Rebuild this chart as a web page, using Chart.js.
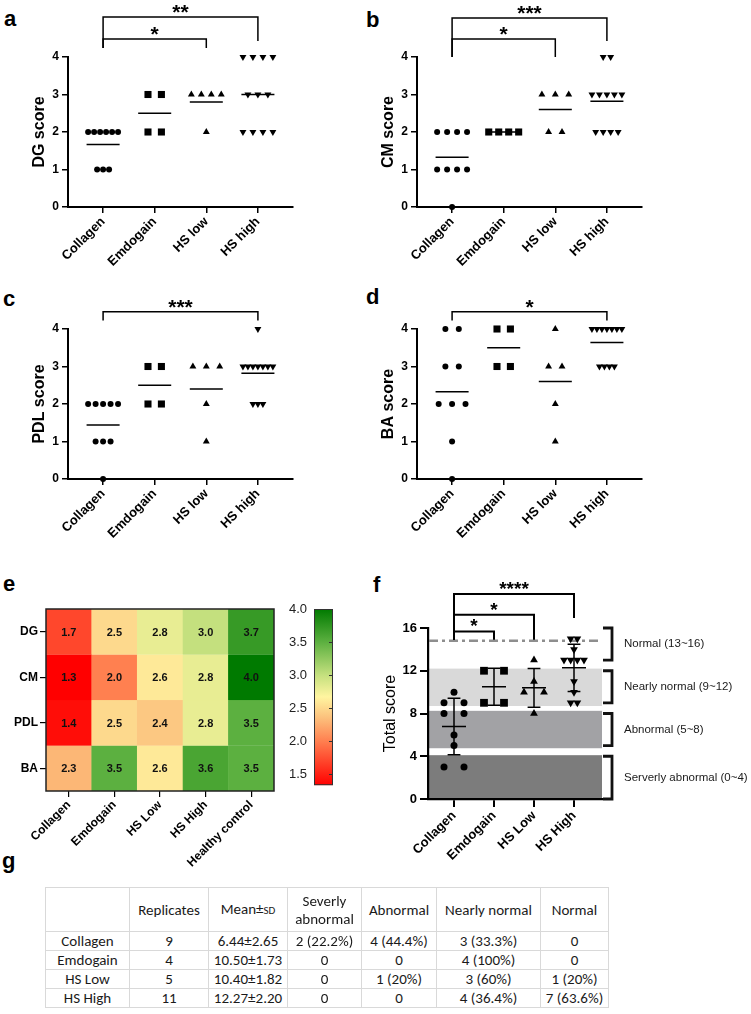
<!DOCTYPE html>
<html>
<head>
<meta charset="utf-8">
<script src="https://cdn.jsdelivr.net/npm/chart.js@4.4.1/dist/chart.umd.min.js"></script>
<style>
html,body{margin:0;padding:0;background:#fff;}
body{width:751px;height:1014px;position:relative;overflow:hidden;font-family:"Liberation Sans",Arial,sans-serif;}
canvas{position:absolute;}
.pl{position:absolute;font-weight:bold;font-size:22px;line-height:22px;color:#000;}
#tbl{position:absolute;left:45px;top:887px;border-collapse:collapse;table-layout:fixed;font-family:Carlito,"Liberation Sans Narrow","DejaVu Sans Condensed","Open Sans",sans-serif;font-size:15px;color:#1a1a1a;}
#tbl td{border:1px solid #d9d9d9;text-align:center;padding:0;height:18px;line-height:18px;white-space:nowrap;overflow:hidden;}
#tbl tr.hd td{height:43px;line-height:18px;}
.sc{font-size:11px;}
</style>
</head>
<body>
<div class="pl" style="left:4px;top:8px">a</div>
<div class="pl" style="left:366px;top:9px">b</div>
<div class="pl" style="left:3px;top:288px">c</div>
<div class="pl" style="left:366px;top:286px">d</div>
<div class="pl" style="left:3px;top:573px">e</div>
<div class="pl" style="left:373px;top:574px">f</div>
<div class="pl" style="left:2px;top:850px">g</div>

<canvas id="ca" width="375" height="270" style="left:0;top:0;width:375px;height:270px"></canvas>
<canvas id="cb" width="375" height="270" style="left:349px;top:0;width:375px;height:270px"></canvas>
<canvas id="cc" width="375" height="270" style="left:0;top:272px;width:375px;height:270px"></canvas>
<canvas id="cd" width="375" height="270" style="left:349px;top:272px;width:375px;height:270px"></canvas>
<canvas id="ce" width="290" height="320" style="left:0;top:560px;width:290px;height:320px"></canvas>
<canvas id="ccb" width="80" height="240" style="left:270px;top:560px;width:80px;height:240px"></canvas>
<canvas id="cf" width="376" height="300" style="left:375px;top:560px;width:376px;height:300px"></canvas>
<table id="tbl"></table>

<script>
// ---------------- DATA ----------------
const groups = ['Collagen', 'Emdogain', 'HS low', 'HS high'];

// a: DG score
const dgCollagen = [2, 2, 2, 2, 2, 2, 1, 1, 1];
const dgEmdogain = [3, 3, 2, 2];
const dgHSlow = [3, 3, 3, 3, 2];
const dgHShigh = [4, 4, 4, 4, 3, 3, 3, 2, 2, 2, 2];
const dgMeans = [1.67, 2.5, 2.8, 3.0];
const dgSig = ['**', '*'];

// b: CM score
const cmCollagen = [2, 2, 2, 2, 1, 1, 1, 1, 0];
const cmEmdogain = [2, 2, 2, 2];
const cmHSlow = [3, 3, 3, 2, 2];
const cmHShigh = [4, 4, 3, 3, 3, 3, 3, 2, 2, 2, 2];
const cmMeans = [1.33, 2.0, 2.6, 2.82];
const cmSig = ['***', '*'];

// c: PDL score
const pdlCollagen = [2, 2, 2, 2, 2, 1, 1, 1, 0];
const pdlEmdogain = [3, 3, 2, 2];
const pdlHSlow = [3, 3, 3, 2, 1];
const pdlHShigh = [4, 3, 3, 3, 3, 3, 3, 3, 2, 2, 2];
const pdlMeans = [1.44, 2.5, 2.4, 2.82];
const pdlSig = ['***'];

// d: BA score
const baCollagen = [4, 4, 3, 3, 2, 2, 2, 1, 0];
const baEmdogain = [4, 4, 3, 3];
const baHSlow = [4, 3, 3, 2, 1];
const baHShigh = [4, 4, 4, 4, 4, 4, 4, 3, 3, 3, 3];
const baMeans = [2.33, 3.5, 2.6, 3.64];
const baSig = ['*'];

// e: heatmap
const heatRows = ['DG', 'CM', 'PDL', 'BA'];
const heatCols = ['Collagen', 'Emdogain', 'HS Low', 'HS High', 'Healthy control'];
const heatDG = [1.7, 2.5, 2.8, 3.0, 3.7];
const heatCM = [1.3, 2.0, 2.6, 2.8, 4.0];
const heatPDL = [1.4, 2.5, 2.4, 2.8, 3.5];
const heatBA = [2.3, 3.5, 2.6, 3.6, 3.5];
const heatMin = 1.33, heatMax = 4.0;
const cbarTicks = [1.5, 2.0, 2.5, 3.0, 3.5, 4.0];

// f: total score
const fGroups = ['Collagen', 'Emdogain', 'HS Low', 'HS High'];
const totCollagen = [10, 9, 9, 8, 8, 6, 5, 3, 3];
const totEmdogain = [12, 12, 9, 9];
const totHSLow = [13, 11, 10, 10, 8];
const totHSHigh = [15, 15, 14, 13, 13, 13, 13, 11, 10, 9, 9];
const totMeans = [6.78, 10.5, 10.4, 12.27];
const totSD = [2.64, 1.73, 1.82, 2.2];
const bandFrom = [0, 4.75, 8.7];
const bandTo = [4.1, 8.25, 12.2];
const normalLine = 14.8;
const gradeNames = ['Normal (13~16)', 'Nearly normal (9~12)', 'Abnormal (5~8)', 'Serverly abnormal (0~4)'];
const gradeFrom = [13, 9, 5, 0];
const gradeTo = [16, 12, 8, 4];
const fSig = ['****', '*', '*'];

// g: table
const tblHeader = ['', 'Replicates', 'Mean±SD', 'Severly<br>abnormal', 'Abnormal', 'Nearly normal', 'Normal'];
const tblGroups = ['Collagen', 'Emdogain', 'HS Low', 'HS High'];
const tblReplicates = ['9', '4', '5', '11'];
const tblMeanSD = ['6.44±2.65', '10.50±1.73', '10.40±1.82', '12.27±2.20'];
const tblSevere = ['2 (22.2%)', '0', '0', '0'];
const tblAbnormal = ['4 (44.4%)', '0', '1 (20%)', '0'];
const tblNearly = ['3 (33.3%)', '4 (100%)', '3 (60%)', '4 (36.4%)'];
const tblNormal = ['0', '0', '1 (20%)', '7 (63.6%)'];

// ---------------- HELPERS ----------------
const FONT = '"Liberation Sans", Arial, Helvetica, sans-serif';
Chart.defaults.font.family = FONT;
Chart.defaults.color = '#000';
Chart.defaults.animation = false;

function swarm(vals, gi, span, cap) {
  const counts = {};
  vals.forEach(v => counts[v] = (counts[v] || 0) + 1);
  const maxN = Math.max(...Object.values(counts));
  const step = maxN > 1 ? Math.min(cap, span / (maxN - 1)) : 0;
  const seen = {};
  return vals.map(v => {
    seen[v] = seen[v] === undefined ? 0 : seen[v] + 1;
    const n = counts[v];
    return { x: gi + (seen[v] - (n - 1) / 2) * step, y: v };
  });
}

function sigPlugin(items, fontSize, lw, dy) {
  return {
    id: 'sig',
    afterDraw(chart) {
      const { ctx, scales: { x, y } } = chart;
      ctx.save();
      ctx.strokeStyle = '#000';
      ctx.fillStyle = '#000';
      ctx.lineWidth = lw;
      ctx.lineJoin = 'miter';
      ctx.font = 'bold ' + fontSize + 'px ' + FONT;
      ctx.textAlign = 'center';
      ctx.textBaseline = 'alphabetic';
      items.forEach(b => {
        const x1 = x.getPixelForValue(b.from), x2 = x.getPixelForValue(b.to);
        const yl = y.getPixelForValue(b.y), yL = y.getPixelForValue(b.l), yR = y.getPixelForValue(b.r);
        ctx.beginPath();
        ctx.moveTo(x1, yL); ctx.lineTo(x1, yl); ctx.lineTo(x2, yl); ctx.lineTo(x2, yR);
        ctx.stroke();
        ctx.fillText(b.t, (x1 + x2) / 2, yl + dy);
      });
      ctx.restore();
    }
  };
}

const axisGrid = (len, w) => ({ display: true, drawOnChartArea: false, drawTicks: true, tickLength: len, color: '#000', lineWidth: w, offset: false });

function scorePanel(id, yTitle, cols, means, sig) {
  const shapes = ['circle', 'rect', 'triangle', 'triangle'];
  const rots = [0, 0, 0, 180];
  const radii = [3, 5, 4, 4];
  const ds = cols.map((vals, gi) => ({
    data: swarm(vals, gi, 0.58, 0.26),
    pointStyle: shapes[gi], rotation: rots[gi], pointRadius: radii[gi],
    backgroundColor: '#000', borderColor: '#000', borderWidth: 0, clip: false
  }));
  const md = [];
  means.forEach((m, i) => { md.push({ x: i - 0.32, y: m }, { x: i + 0.32, y: m }, { x: i, y: null }); });
  ds.push({ data: md, showLine: true, borderColor: '#000', borderWidth: 1.5, pointRadius: 0, spanGaps: false, clip: false });
  new Chart(document.getElementById(id), {
    type: 'scatter',
    data: { datasets: ds },
    options: {
      responsive: false, animation: false, devicePixelRatio: 1,
      layout: { padding: { top: 57, right: 82, left: 0, bottom: 0 } },
      plugins: { legend: { display: false }, tooltip: { enabled: false } },
      scales: {
        x: {
          type: 'linear', min: -0.68, max: 3.68,
          afterBuildTicks: ax => { ax.ticks = groups.map((g, i) => ({ value: i })); },
          afterFit: ax => { ax.height = 63; },
          ticks: { callback: v => groups[v], autoSkip: false, maxRotation: 45, minRotation: 45, padding: 1, color: '#000', font: { size: 13, weight: 'bold' } },
          grid: axisGrid(6, 1.5),
          border: { display: true, color: '#000', width: 2 }
        },
        y: {
          min: 0, max: 4,
          afterBuildTicks: ax => { ax.ticks = [0, 1, 2, 3, 4].map(v => ({ value: v })); },
          afterFit: ax => { ax.width = 68; },
          ticks: { padding: 3, color: '#000', font: { size: 12, weight: 'bold' } },
          grid: axisGrid(6, 1.5),
          border: { display: true, color: '#000', width: 2 },
          title: { display: true, text: yTitle, color: '#000', font: { size: 16, weight: 'bold' }, padding: { top: 30.4, bottom: 0 } }
        }
      }
    },
    plugins: [sigPlugin(sig, 21, 1.5, 2)]
  });
}

scorePanel('ca', 'DG score', [dgCollagen, dgEmdogain, dgHSlow, dgHShigh], dgMeans,
  [{ from: 0, to: 3, y: 5.07, l: 4.24, r: 4.43, t: dgSig[0] }, { from: 0, to: 2, y: 4.48, l: 4.24, r: 4.24, t: dgSig[1] }]);
scorePanel('cb', 'CM score', [cmCollagen, cmEmdogain, cmHSlow, cmHShigh], cmMeans,
  [{ from: 0, to: 3, y: 5.04, l: 4.0, r: 4.43, t: cmSig[0] }, { from: 0, to: 2, y: 4.48, l: 4.0, r: 4.0, t: cmSig[1] }]);
scorePanel('cc', 'PDL score', [pdlCollagen, pdlEmdogain, pdlHSlow, pdlHShigh], pdlMeans,
  [{ from: 0, to: 3, y: 4.46, l: 4.23, r: 4.23, t: pdlSig[0] }]);
scorePanel('cd', 'BA score', [baCollagen, baEmdogain, baHSlow, baHShigh], baMeans,
  [{ from: 0, to: 3, y: 4.46, l: 4.23, r: 4.23, t: baSig[0] }]);

// ---------------- HEATMAP ----------------
const cmapStops = [[1.33, [255, 0, 0]], [2.0, [255, 128, 80]], [2.35, [252, 192, 124]], [2.67, [255, 245, 160]], [3.0, [196, 224, 126]], [3.5, [92, 176, 64]], [4.0, [0, 122, 0]]];
function cmap(v) {
  if (v <= cmapStops[0][0]) return 'rgb(' + cmapStops[0][1].join(',') + ')';
  for (let i = 1; i < cmapStops.length; i++) {
    if (v <= cmapStops[i][0]) {
      const [a, ca] = cmapStops[i - 1], [b, cb] = cmapStops[i];
      const t = (v - a) / (b - a);
      return 'rgb(' + ca.map((c, k) => Math.round(c + (cb[k] - c) * t)).join(',') + ')';
    }
  }
  return 'rgb(' + cmapStops[cmapStops.length - 1][1].join(',') + ')';
}
const heatMatrix = [heatDG, heatCM, heatPDL, heatBA];
const heatDatasets = heatMatrix.map((row, r) => ({
  data: row.map(() => [r - 0.5, r + 0.5]),
  values: row,
  backgroundColor: row.map(cmap),
  borderColor: row.map(cmap),
  borderWidth: 0.6,
  borderSkipped: false,
  grouped: false,
  barPercentage: 1,
  categoryPercentage: 1
}));
const heatPlugin = {
  id: 'heatlabels',
  afterDatasetsDraw(chart) {
    const { ctx, chartArea: a } = chart;
    ctx.save();
    ctx.font = 'bold 11px ' + FONT;
    ctx.fillStyle = '#111';
    ctx.textAlign = 'center';
    ctx.textBaseline = 'middle';
    chart.data.datasets.forEach((ds, di) => {
      chart.getDatasetMeta(di).data.forEach((el, j) => {
        const p = el.getCenterPoint();
        ctx.fillText(ds.values[j].toFixed(1), p.x, p.y + 1);
      });
    });
    ctx.strokeStyle = '#222';
    ctx.lineWidth = 1.5;
    ctx.strokeRect(a.left, a.top, a.right - a.left, a.bottom - a.top);
    ctx.restore();
  }
};
new Chart(document.getElementById('ce'), {
  type: 'bar',
  data: { labels: heatCols, datasets: heatDatasets },
  options: {
    responsive: false, animation: false, devicePixelRatio: 1,
    layout: { padding: { top: 49, right: 16, left: 0, bottom: 0 } },
    plugins: { legend: { display: false }, tooltip: { enabled: false } },
    scales: {
      x: {
        afterFit: ax => { ax.height = 89; },
        ticks: { autoSkip: false, maxRotation: 45, minRotation: 45, padding: 1, color: '#000', font: { size: 12, weight: 'bold' } },
        grid: axisGrid(6, 1.2),
        border: { display: false }
      },
      y: {
        min: -0.5, max: 3.5, reverse: true,
        afterBuildTicks: ax => { ax.ticks = heatRows.map((r, i) => ({ value: i })); },
        afterFit: ax => { ax.width = 46; },
        ticks: { callback: v => heatRows[v], padding: 2, color: '#000', font: { size: 12, weight: 'bold' } },
        grid: axisGrid(6, 1.2),
        border: { display: false }
      }
    }
  },
  plugins: [heatPlugin]
});

// colorbar
const cbarPlugin = {
  id: 'cbar',
  afterDatasetsDraw(chart) {
    const { ctx, chartArea: a, scales: { y } } = chart;
    ctx.save();
    ctx.strokeStyle = '#333';
    ctx.lineWidth = 1;
    cbarTicks.forEach(v => {
      const py = Math.round(y.getPixelForValue(v)) + 0.5;
      ctx.beginPath(); ctx.moveTo(a.right - 4, py); ctx.lineTo(a.right, py); ctx.stroke();
    });
    ctx.strokeRect(a.left + 0.5, a.top + 0.5, a.right - a.left - 1, a.bottom - a.top - 1);
    ctx.restore();
  }
};
new Chart(document.getElementById('ccb'), {
  type: 'bar',
  data: {
    labels: [''],
    datasets: [{
      data: [[heatMin, heatMax]],
      barPercentage: 1, categoryPercentage: 1, borderWidth: 0,
      backgroundColor: (c) => {
        const ch = c.chart, a = ch.chartArea;
        if (!a) return '#888';
        const ys = ch.scales.y;
        const y0 = ys.getPixelForValue(heatMin), y1 = ys.getPixelForValue(heatMax);
        const g = ch.ctx.createLinearGradient(0, y0, 0, y1);
        cmapStops.forEach(([v, col]) => {
          const t = Math.min(1, Math.max(0, (v - heatMin) / (heatMax - heatMin)));
          g.addColorStop(t, 'rgb(' + col.join(',') + ')');
        });
        return g;
      }
    }]
  },
  options: {
    responsive: false, animation: false, devicePixelRatio: 1,
    layout: { padding: { top: 49, right: 17, left: 0, bottom: 9 } },
    plugins: { legend: { display: false }, tooltip: { enabled: false } },
    scales: {
      x: { display: false },
      y: {
        min: heatMin, max: heatMax,
        afterBuildTicks: ax => { ax.ticks = cbarTicks.map(v => ({ value: v })); },
        afterFit: ax => { ax.width = 44; },
        ticks: { callback: v => v.toFixed(1), padding: 7, color: '#222', font: { size: 13 } },
        grid: { display: true, drawOnChartArea: false, drawTicks: false },
        border: { display: false }
      }
    }
  },
  plugins: [cbarPlugin]
});

// ---------------- PANEL F ----------------
const fCols = [totCollagen, totEmdogain, totHSLow, totHSHigh];
const fShapes = ['circle', 'rect', 'triangle', 'triangle'];
const fRots = [0, 0, 0, 180];
const fRadii = [3.5, 5.5, 4.5, 4.5];
const fDatasets = fCols.map((vals, gi) => ({
  data: swarm(vals, gi, 0.5, 0.5),
  pointStyle: fShapes[gi], rotation: fRots[gi], pointRadius: fRadii[gi],
  backgroundColor: '#000', borderColor: '#000', borderWidth: 0, clip: false
}));
const eb = [];
totMeans.forEach((m, i) => {
  const s = totSD[i];
  eb.push({ x: i - 0.3, y: m }, { x: i + 0.3, y: m }, { x: i, y: null });
  eb.push({ x: i, y: m - s }, { x: i, y: m + s }, { x: i, y: null });
  eb.push({ x: i - 0.16, y: m + s }, { x: i + 0.16, y: m + s }, { x: i, y: null });
  eb.push({ x: i - 0.16, y: m - s }, { x: i + 0.16, y: m - s }, { x: i, y: null });
});
fDatasets.push({ data: eb, showLine: true, borderColor: '#000', borderWidth: 1.5, pointRadius: 0, spanGaps: false, clip: false });

const fBackPlugin = {
  id: 'fback',
  beforeDraw(chart) {
    const { ctx, chartArea: a, scales: { y } } = chart;
    const shades = ['#7c7c7c', '#a2a2a5', '#d9d9d9'];
    ctx.save();
    bandFrom.forEach((lo, i) => {
      const y1 = y.getPixelForValue(bandTo[i]), y0 = y.getPixelForValue(lo);
      ctx.fillStyle = shades[i];
      ctx.fillRect(a.left, y1, a.right - a.left, y0 - y1);
    });
    ctx.restore();
  },
  beforeDatasetsDraw(chart) {
    const { ctx, chartArea: a, scales: { y } } = chart;
    ctx.save();
    ctx.strokeStyle = '#8e8e8e';
    ctx.lineWidth = 2.5;
    ctx.setLineDash([9, 4, 3, 4]);
    const py = y.getPixelForValue(normalLine);
    ctx.beginPath(); ctx.moveTo(a.left + 1, py); ctx.lineTo(a.right, py); ctx.stroke();
    ctx.restore();
  },
  afterDraw(chart) {
    const { ctx, chartArea: a, scales: { y } } = chart;
    ctx.save();
    ctx.strokeStyle = '#111';
    ctx.lineWidth = 2.8;
    ctx.font = '11.5px ' + FONT;
    ctx.fillStyle = '#1a1a1a';
    ctx.textAlign = 'left';
    ctx.textBaseline = 'middle';
    const xs = a.right + 1, xv = a.right + 10;
    gradeNames.forEach((name, i) => {
      const yt = y.getPixelForValue(gradeTo[i]), yb = y.getPixelForValue(gradeFrom[i]);
      ctx.beginPath(); ctx.moveTo(xs, yt); ctx.lineTo(xv, yt); ctx.lineTo(xv, yb); ctx.lineTo(xs, yb); ctx.stroke();
      ctx.fillText(name, a.right + 22, (yt + yb) / 2);
    });
    ctx.restore();
  }
};

new Chart(document.getElementById('cf'), {
  type: 'scatter',
  data: { datasets: fDatasets },
  options: {
    responsive: false, animation: false, devicePixelRatio: 1,
    layout: { padding: { top: 68, right: 149, left: 0, bottom: 0 } },
    plugins: { legend: { display: false }, tooltip: { enabled: false } },
    scales: {
      x: {
        type: 'linear', min: -0.65, max: 3.7,
        afterBuildTicks: ax => { ax.ticks = fGroups.map((g, i) => ({ value: i })); },
        afterFit: ax => { ax.height = 61; },
        ticks: { callback: v => fGroups[v], autoSkip: false, maxRotation: 45, minRotation: 45, padding: 1, color: '#000', font: { size: 13, weight: 'bold' } },
        grid: axisGrid(8, 2),
        border: { display: true, color: '#000', width: 2.2 }
      },
      y: {
        min: 0, max: 16,
        afterBuildTicks: ax => { ax.ticks = [0, 4, 8, 12, 16].map(v => ({ value: v })); },
        afterFit: ax => { ax.width = 53; },
        ticks: { padding: 3, color: '#000', font: { size: 13, weight: 'bold' } },
        grid: axisGrid(8, 2),
        border: { display: true, color: '#000', width: 2.2 },
        title: { display: true, text: 'Total score', color: '#000', font: { size: 16 }, padding: { top: 6.4, bottom: 0 } }
      }
    }
  },
  plugins: [fBackPlugin, sigPlugin([
    { from: 0, to: 3, y: 19.18, l: 14.9, r: 16.93, t: fSig[0] },
    { from: 0, to: 2, y: 17.24, l: 14.9, r: 14.9, t: fSig[1] },
    { from: 0, to: 1, y: 15.68, l: 14.9, r: 14.9, t: fSig[2] }
  ], 19, 2, 1)]
});

// ---------------- TABLE ----------------
(function buildTable() {
  const widths = [84, 79, 79, 74, 75, 104, 68];
  const tbl = document.getElementById('tbl');
  let html = '<colgroup>' + widths.map(w => '<col style="width:' + w + 'px">').join('') + '</colgroup>';
  html += '<tr class="hd">' + tblHeader.map(h => '<td>' + h.replace('SD', '<span class="sc">SD</span>') + '</td>').join('') + '</tr>';
  tblGroups.forEach((g, i) => {
    const cells = [g, tblReplicates[i], tblMeanSD[i], tblSevere[i], tblAbnormal[i], tblNearly[i], tblNormal[i]];
    html += '<tr>' + cells.map(c => '<td>' + c + '</td>').join('') + '</tr>';
  });
  tbl.innerHTML = html;
})();
</script>
</body>
</html>
